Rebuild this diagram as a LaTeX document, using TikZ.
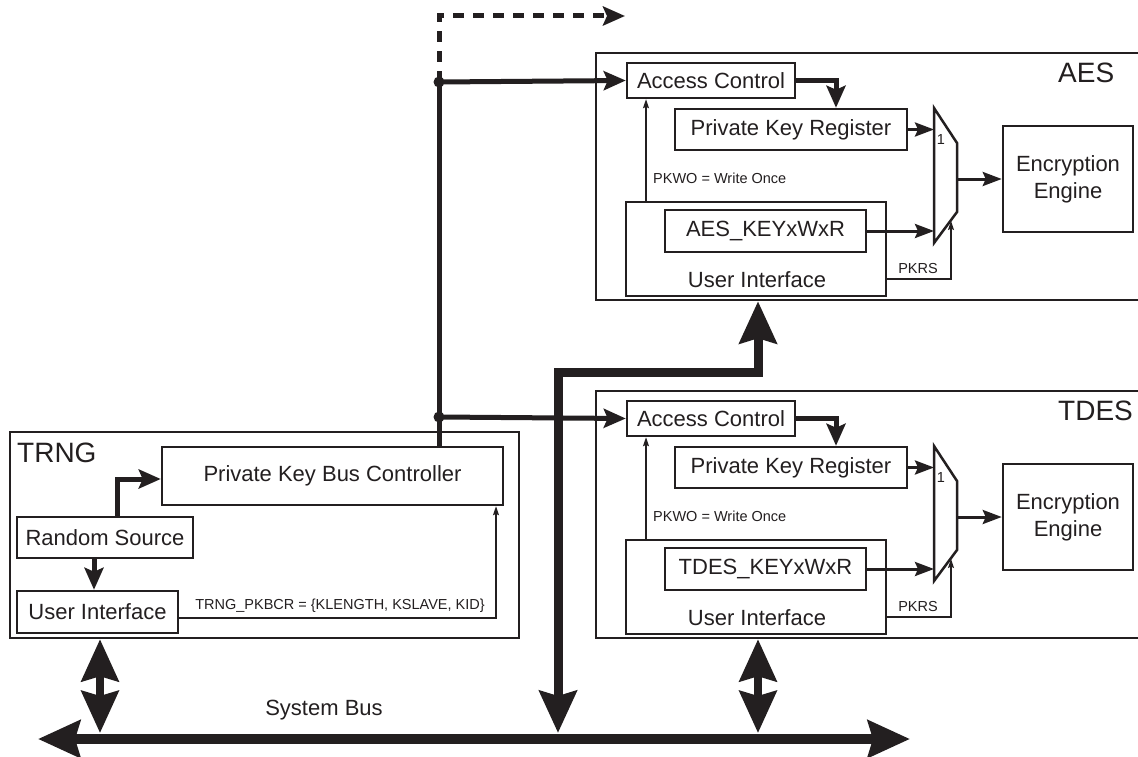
\documentclass[tikz,border=0pt]{standalone}
\usepackage{fontspec}
\setmainfont{Liberation Sans}
\usetikzlibrary{arrows.meta,calc}
\definecolor{ink}{RGB}{35,31,32}
\newcommand\mainf{\fontsize{22}{27}\selectfont}
\newcommand\smallf{\fontsize{14.5}{17}\selectfont}
\newcommand\bigf{\fontsize{28}{32}\selectfont}
\newcommand\cryptoblk[4]{%
\begin{scope}[yshift=-#2pt]
\node[box, minimum width=564pt, minimum height=247pt] (#1box) at (878,176.5) {};
\node[anchor=west, font=\bigf, inner sep=0pt] (#1title) at (1058,73) {#4};
\node[box, minimum width=168pt, minimum height=35pt] (#1ac) at (711,80.5) {Access Control};
\node[box, minimum width=232pt, minimum height=41pt] (#1pkr) at (791,129.5) {Private Key Register};
\node[box, minimum width=260pt, minimum height=94pt] (#1ui) at (756,249) {};
\node[font=\mainf, inner sep=0pt] (#1uit) at (757,280) {User Interface};
\node[box, minimum width=201pt, minimum height=42pt] (#1key) at (765.5,231) {#3};
\node[box, minimum width=130pt, minimum height=106pt, align=center] (#1ee) at (1068,179) {Encryption\\Engine};
\coordinate (#1m1) at (934,108);
\coordinate (#1m2) at (957,143);
\coordinate (#1m3) at (957,212);
\coordinate (#1m4) at (934,243);
\draw[line width=2.5pt, line join=miter] (#1m1) -- (#1m2) -- (#1m3) -- (#1m4) -- cycle;
\node[font=\smallf, inner sep=0pt] (#1one) at (941,140) {1};
\coordinate (#1bend) at (836,80.5);
\draw[thk, -{Stealth[length=22pt,width=19pt,inset=4pt]}] (#1ac.east) -- (#1bend) -- (#1bend |- #1pkr.north);
\draw[med] (#1pkr.east) -- (#1pkr.east -| #1m1);
\draw[med] (#1key.east) -- (#1key.east -| #1m1);
\coordinate (#1mo) at (957,179);
\draw[med] (#1mo) -- (#1ee.west);
\coordinate (#1pw) at (646,150);
\draw[thn] (#1ui.north -| #1pw) -- (#1ac.south -| #1pw);
\node[anchor=west, font=\smallf, inner sep=0pt] (#1pwl) at (653,178) {PKWO = Write Once};
\coordinate (#1pr) at (951,279);
\coordinate (#1prt) at (951,221);
\draw[thn] (#1ui.east |- #1pr) -- (#1pr) -- (#1prt);
\node[font=\smallf, inner sep=0pt] (#1prl) at (918,269) {PKRS};
\end{scope}}
\begin{document}
\begin{tikzpicture}[x=1pt,y=-1pt, ink,
  every node/.style={text=ink},
  box/.style={draw=ink, line width=2.5pt, inner sep=0pt, font=\mainf},
  thk/.style={draw=ink, line width=5pt, line join=miter},
  med/.style={draw=ink, line width=3pt, -{Stealth[length=19pt,width=14pt,inset=3pt]}},
  thn/.style={draw=ink, line width=1.2pt, -{Stealth[length=9pt,width=6pt,inset=1.5pt]}},
  bus/.style={draw=ink, line width=10pt, line join=miter, {Stealth[length=42pt,width=37pt,inset=5pt]}-{Stealth[length=42pt,width=37pt,inset=5pt]}},
  vbus/.style={draw=ink, line width=8pt, {Stealth[length=42pt,width=37pt,inset=5pt]}-{Stealth[length=42pt,width=37pt,inset=5pt]}}]
\fill[white] (0,0) rectangle (1138,757);
\useasboundingbox (0,0) rectangle (1138,757);

\cryptoblk{aes}{0}{AES\_KEYxWxR}{AES}
\cryptoblk{tdes}{338}{TDES\_KEYxWxR}{TDES}

% TRNG
\node[box, minimum width=509pt, minimum height=206pt] (trng) at (264.5,535) {};
\node[anchor=west, font=\bigf, inner sep=0pt] (trngt) at (17,453) {TRNG};
\node[box, minimum width=341pt, minimum height=58pt] (pkbc) at (332.5,476) {Private Key Bus Controller};
\node[box, minimum width=176pt, minimum height=41pt] (rs) at (105,537.5) {Random Source};
\node[box, minimum width=161pt, minimum height=42pt] (tui) at (97.5,612) {User Interface};
\coordinate (rsb) at (117,479);
\draw[thk, -{Stealth[length=22pt,width=19pt,inset=4pt]}] (rs.north -| rsb) -- (rsb) -- (rsb -| pkbc.west);
\coordinate (rt) at (94,575);
\draw[thk, -{Stealth[length=22pt,width=19pt,inset=4pt]}] (rs.south -| rt) -- (rt |- tui.north);
\coordinate (tp) at (496,618);
\draw[thn] (tui.east |- tp) -- (tp) -- (tp |- pkbc.south);
\node[font=\smallf, inner sep=0pt] (tpl) at (340,606) {TRNG\_PKBCR = \{KLENGTH, KSLAVE, KID\}};

% private key bus
\coordinate (j1) at (439,82);
\coordinate (j2) at (439,417);
\draw[thk] (pkbc.north -| j1) -- (j1);
\coordinate (dc) at (439,16);
\coordinate (de) at (625,16);
\draw[thk, dash pattern=on 11pt off 9pt, -{Stealth[length=22pt,width=19pt,inset=4pt]}] (j1) -- (dc) -- (de);
\draw[thk, -{Stealth[length=22pt,width=19pt,inset=4pt]}] (j1) -- (aesac.west);
\draw[thk, -{Stealth[length=22pt,width=19pt,inset=4pt]}] (j2) -- (tdesac.west);
\fill (j1) circle[radius=5.5pt];
\fill (j2) circle[radius=5.5pt];

% system bus
\coordinate (sbl) at (38,739);
\coordinate (sbr) at (910,739);
\draw[bus] (sbl) -- (sbr);
\node[font=\mainf, inner sep=0pt] (sbt) at (324,710) {System Bus};
\coordinate (tb) at (100,733);
\draw[vbus] (trng.south -| tb) -- (tb);
\coordinate (db) at (758,733);
\draw[vbus] (tdesbox.south -| db) -- (db);
\coordinate (vb1) at (558,733);
\coordinate (vb2) at (558,372);
\coordinate (vb3) at (758,372);
\draw[bus, line width=9pt] (vb1) -- (vb2) -- (vb3) -- (aesbox.south -| vb3);
\end{tikzpicture}
\end{document}
